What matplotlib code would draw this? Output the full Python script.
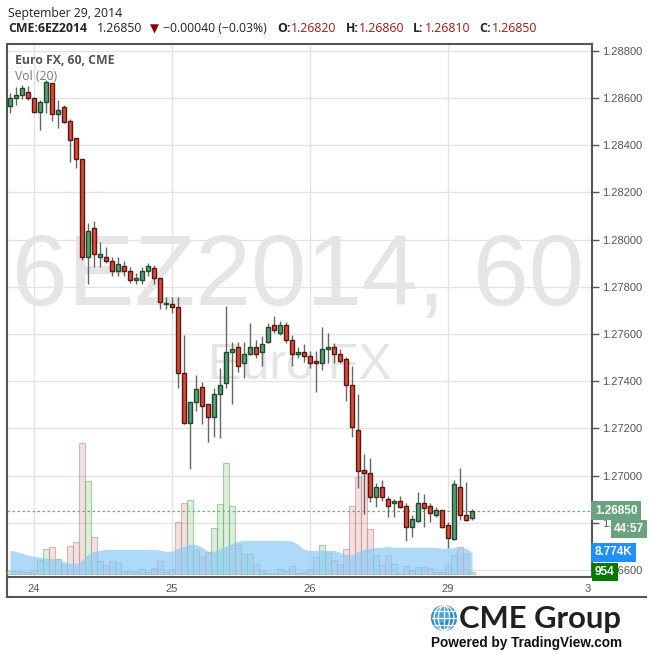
import numpy as np
import matplotlib
matplotlib.use('Agg')
import matplotlib.pyplot as plt
from matplotlib.patches import Circle, Ellipse
from matplotlib.lines import Line2D
import matplotlib.transforms as mtransforms

# hourly candles, Euro FX Dec 2014 (6EZ2014)
opens = [1.28566, 1.28600, 1.28612, 1.28625, 1.28600, 1.28540, 1.28583, 1.28663, 1.28532, 1.28561,
         1.28502, 1.28430, 1.28341, 1.27925, 1.28048, 1.27925, 1.27925, 1.27908, 1.27866, 1.27887,
         1.27866, 1.27828, 1.27828, 1.27866, 1.27879, 1.27836, 1.27726, 1.27726, 1.27713, 1.27434,
         1.27222, 1.27311, 1.27374, 1.27302, 1.27247, 1.27345, 1.27391, 1.27523, 1.27544, 1.27476,
         1.27514, 1.27544, 1.27523, 1.27565, 1.27637, 1.27603, 1.27637, 1.27574, 1.27514, 1.27523,
         1.27506, 1.27484, 1.27476, 1.27535, 1.27544, 1.27514, 1.27493, 1.27383, 1.27192, 1.27022,
         1.27010, 1.26908, 1.26951, 1.26899, 1.26882, 1.26891, 1.26870, 1.26780, 1.26806, 1.26882,
         1.26870, 1.26831, 1.26853, 1.26789, 1.26730, 1.26951, 1.26831, 1.26820]
highs = [1.28621, 1.28646, 1.28655, 1.28650, 1.28602, 1.28591, 1.28676, 1.28665, 1.28591, 1.28570,
         1.28510, 1.28432, 1.28343, 1.28070, 1.28078, 1.27989, 1.27968, 1.27925, 1.27925, 1.27908,
         1.27883, 1.27857, 1.27883, 1.27900, 1.27891, 1.27838, 1.27756, 1.27756, 1.27756, 1.27595,
         1.27313, 1.27425, 1.27395, 1.27304, 1.27370, 1.27455, 1.27718, 1.27565, 1.27565, 1.27565,
         1.27646, 1.27574, 1.27590, 1.27646, 1.27675, 1.27654, 1.27650, 1.27595, 1.27544, 1.27556,
         1.27527, 1.27527, 1.27628, 1.27603, 1.27561, 1.27535, 1.27501, 1.27463, 1.27345, 1.27090,
         1.27073, 1.26967, 1.26980, 1.26912, 1.26899, 1.26912, 1.26882, 1.26831, 1.26929, 1.26920,
         1.26882, 1.26865, 1.26855, 1.26802, 1.26980, 1.27031, 1.26971, 1.26860]
lows = [1.28536, 1.28570, 1.28595, 1.28591, 1.28536, 1.28464, 1.28536, 1.28502, 1.28472, 1.28494,
        1.28328, 1.28303, 1.27913, 1.27811, 1.27883, 1.27883, 1.27900, 1.27845, 1.27845, 1.27845,
        1.27815, 1.27811, 1.27811, 1.27845, 1.27811, 1.27705, 1.27705, 1.27688, 1.27370, 1.27220,
        1.27026, 1.27272, 1.27217, 1.27141, 1.27162, 1.27158, 1.27370, 1.27302, 1.27438, 1.27412,
        1.27512, 1.27497, 1.27463, 1.27561, 1.27603, 1.27595, 1.27561, 1.27463, 1.27497, 1.27480,
        1.27455, 1.27352, 1.27446, 1.27476, 1.27476, 1.27476, 1.27315, 1.27162, 1.26946, 1.26836,
        1.26887, 1.26865, 1.26891, 1.26824, 1.26824, 1.26861, 1.26721, 1.26738, 1.26804, 1.26780,
        1.26802, 1.26824, 1.26778, 1.26692, 1.26728, 1.26810, 1.26808, 1.26810]
closes = [1.28600, 1.28612, 1.28642, 1.28600, 1.28540, 1.28583, 1.28667, 1.28532, 1.28549, 1.28498,
          1.28421, 1.28341, 1.27925, 1.28036, 1.27938, 1.27938, 1.27908, 1.27866, 1.27896, 1.27866,
          1.27828, 1.27836, 1.27866, 1.27887, 1.27836, 1.27735, 1.27730, 1.27713, 1.27434, 1.27222,
          1.27311, 1.27366, 1.27294, 1.27247, 1.27345, 1.27383, 1.27523, 1.27535, 1.27463, 1.27514,
          1.27544, 1.27514, 1.27556, 1.27628, 1.27616, 1.27637, 1.27574, 1.27514, 1.27523, 1.27506,
          1.27476, 1.27476, 1.27535, 1.27544, 1.27514, 1.27484, 1.27383, 1.27205, 1.27018, 1.27010,
          1.26908, 1.26951, 1.26908, 1.26870, 1.26891, 1.26865, 1.26780, 1.26817, 1.26882, 1.26861,
          1.26840, 1.26853, 1.26780, 1.26734, 1.26963, 1.26831, 1.26810, 1.26850]
volumes = [1200, 1200, 800, 800, 1600, 5600, 10000, 10800, 6000, 3600,
           11200, 12800, 52400, 37200, 14800, 5200, 3600, 5200, 4800, 1200,
           1200, 800, 2000, 800, 2400, 5200, 800, 2000, 20800, 28400,
           29600, 9600, 6800, 8800, 18400, 28000, 44400, 27200, 11600, 8000,
           8000, 4000, 1600, 400, 400, 2000, 1200, 3200, 400, 800,
           2000, 6800, 11600, 8400, 5600, 4000, 10000, 27200, 38800, 41600,
           18000, 7600, 3600, 7600, 4000, 400, 3200, 1600, 2800, 2800,
           2400, 800, 800, 3600, 7600, 10800, 8000, 954]
vol_ma = [9600, 9200, 8400, 7600, 7200, 6800, 6400, 6400, 6000, 5200,
          4400, 4400, 5600, 8000, 9200, 9600, 10000, 10000, 10000, 10000,
          10000, 10000, 10000, 10000, 10000, 9600, 9200, 9200, 10400, 11200,
          12000, 12000, 10800, 9200, 9200, 10400, 11200, 12400, 13200, 13600,
          13600, 13600, 13600, 13600, 13600, 13600, 13600, 13200, 12000, 10000,
          9600, 9600, 9600, 9600, 9600, 8800, 8000, 7600, 9200, 10000,
          10400, 10800, 10800, 11200, 10800, 10800, 10800, 10800, 10800, 10800,
          10800, 10800, 10400, 10400, 10800, 10800, 10400, 8774]

day_pos = [4, 27, 50, 73, 96.3]
day_labels = ['24', '25', '26', '29', '3']
price_ticks = [1.266, 1.268, 1.270, 1.272, 1.274, 1.276, 1.278, 1.280, 1.282, 1.284, 1.286, 1.288]
last_price = 1.26850

W, H = 652, 654
def fx(px):
    return px / W
def fy(py):
    return 1 - py / H

RED, RED_EDGE = '#d64b3a', '#5a1810'
GREEN, GREEN_EDGE = '#5b9b78', '#1d4a2c'
AX_COL = '#555555'
LAB = 'Liberation Sans'

fig = plt.figure(figsize=(6.52, 6.54), dpi=100)
rect = [fx(7), fy(577), fx(592) - fx(7), fy(44) - fy(577)]
ax = fig.add_axes(rect)
axv = fig.add_axes(rect, sharex=ax)
axc = fig.add_axes(rect, sharex=ax, sharey=ax)

x = np.arange(len(closes))
o = np.array(opens); c = np.array(closes)
up = c >= o

# background: grid + watermark
ax.set_xlim(-0.5, 97)
ax.set_ylim(1.265699, 1.288287)
for p in price_ticks:
    ax.axhline(p, color='#e3e3e3', lw=1, zorder=0)
for d in day_pos[:4]:
    ax.axvline(d, color='#e3e3e3', lw=1, zorder=0)
ax.text(0.497, 0.56, '6EZ2014, 60', transform=ax.transAxes, ha='center', va='center',
        fontsize=72, color='#e5e5e5', family=LAB, zorder=0)
ax.text(0.50, 0.395, 'Euro FX', transform=ax.transAxes, ha='center', va='center',
        fontsize=36, color='#e5e5e5', family=LAB, zorder=0)
ax.axhline(last_price, color='#6aa87f', lw=0.9, ls=(0, (2, 2)), zorder=1)

ax.yaxis.tick_right()
ax.set_yticks(price_ticks)
ax.set_yticklabels([f'{p:.5f}' for p in price_ticks])
ax.set_xticks(day_pos)
ax.set_xticklabels(day_labels)
ax.tick_params(axis='y', direction='out', length=5, width=1, color=AX_COL, labelsize=8,
               labelcolor=AX_COL, pad=2)
ax.tick_params(axis='x', length=0, labelsize=8, labelcolor=AX_COL, pad=5)
for lab in ax.get_xticklabels() + ax.get_yticklabels():
    lab.set_family(LAB)
for s in ax.spines.values():
    s.set_color(AX_COL)
    s.set_linewidth(1.5)

# volume layer
axv.set_ylim(-1080, 212120)
axv.set_axis_off()
vcol = [(0.55, 0.78, 0.55, 0.3) if u else (0.85, 0.6, 0.6, 0.3) for u in up]
vedge = [(0.45, 0.7, 0.45, 0.6) if u else (0.8, 0.55, 0.55, 0.6) for u in up]
axv.bar(x, volumes, width=1.0, color=vcol, edgecolor=vedge, linewidth=0.8, zorder=1)
axv.fill_between(x, 0, vol_ma, color='#8ccaf6', alpha=0.7, lw=0, zorder=2)

# candles
axc.set_axis_off()
axc.vlines(x, lows, highs, color='#666666', lw=1, zorder=1)
body_lo = np.minimum(o, c)
body_h = np.maximum(np.abs(c - o), 0.00002)
axc.bar(x, body_h, bottom=body_lo, width=0.68, color=np.where(up, GREEN, RED),
        edgecolor=np.where(up, GREEN_EDGE, RED_EDGE), linewidth=1, zorder=2)

# price-axis flags
blend = mtransforms.blended_transform_factory(ax.transAxes, ax.transData)
ax.text(1.005, last_price, '1.26850', transform=blend, ha='left', va='center', fontsize=8.5,
        color='white', family=LAB, clip_on=False, weight='bold',
        bbox=dict(boxstyle='square,pad=0.3', fc='#6aa27f', ec='none'), zorder=5)
fig.text(fx(644), fy(529), '44:57', ha='right', va='center', fontsize=8.5, color='white',
         family=LAB, weight='bold', bbox=dict(boxstyle='square,pad=0.22', fc='#6aa27f', ec='none'))
vblend = mtransforms.blended_transform_factory(axv.transAxes, axv.transData)
axv.text(1.005, vol_ma[-1], '8.774K', transform=vblend, ha='left', va='center', fontsize=8.5,
         color='white', family=LAB, clip_on=False, weight='bold',
         bbox=dict(boxstyle='square,pad=0.3', fc='#1e90ff', ec='none'), zorder=5)
axv.text(1.005, volumes[-1], '954', transform=vblend, ha='left', va='center', fontsize=8.5,
         color='white', family=LAB, clip_on=False, weight='bold',
         bbox=dict(boxstyle='square,pad=0.25', fc='#007a00', ec='none'), zorder=5)

# frame under the time axis
fig.add_artist(Line2D([fx(7), fx(7)], [fy(577), fy(597)], color=AX_COL, lw=1.5))
fig.add_artist(Line2D([fx(7), fx(646)], [fy(597), fy(597)], color=AX_COL, lw=1.5))

# header
hf = 'Open Sans'
fs = 8.8
fig.text(fx(8), fy(13), 'September 29, 2014', fontsize=fs, family=hf, color='#222', va='center')
row = fy(29)
pieces = [(8, 'CME:6EZ2014', 'bold', '#222'), (97, '1.26850', 'normal', '#222'),
          (163, '\u22120.00040 (\u22120.03%)', 'normal', '#222'),
          (277, 'O:', 'bold', '#222'), (291, '1.26820', 'normal', '#a31515'),
          (346, 'H:', 'bold', '#222'), (359, '1.26860', 'normal', '#a31515'),
          (413, 'L:', 'bold', '#222'), (425, '1.26810', 'normal', '#a31515'),
          (479, 'C:', 'bold', '#222'), (492, '1.26850', 'normal', '#a31515')]
for px, s, w, col in pieces:
    fig.text(fx(px), row, s, fontsize=fs, family=hf, weight=w, color=col, va='center')
fig.text(fx(150), row, '\u25bc', fontsize=8.5, family='DejaVu Sans', color='#8b0000', va='center')
fig.text(fx(15), fy(60), 'Euro FX, 60, CME', fontsize=fs, family=hf, weight='bold',
         color='#555', va='center')
fig.text(fx(15), fy(77), 'Vol (20)', fontsize=fs, family=hf, color='#777', va='center')

# logo
axl = fig.add_axes([fx(431), fy(631), 26 / W, 26 / H])
axl.set_xlim(-1.05, 1.05); axl.set_ylim(-1.05, 1.05); axl.set_aspect('equal'); axl.set_axis_off()
globe = Circle((0, 0), 1, color='#2a8ad4')
axl.add_patch(globe)
axl.add_patch(Circle((-0.25, 0.25), 0.6, color='#5cb6f0', alpha=0.6, clip_path=globe))
for yy in [-0.55, 0, 0.55]:
    hw = np.sqrt(1 - yy ** 2)
    axl.plot([-hw, hw], [yy, yy], color='white', lw=0.9)
axl.plot([0, 0], [-1, 1], color='white', lw=0.9)
for wdt in [0.9, 1.6]:
    axl.add_patch(Ellipse((0, 0), wdt, 2, fill=False, ec='white', lw=0.9))
fig.text(fx(459), fy(619), 'CME Group', fontsize=22.3, family='Lato', weight='bold',
         color='#231f20', va='center')
fig.text(fx(527), fy(643), 'Powered by TradingView.com', fontsize=9.8, family=LAB,
         weight='bold', color='#111', va='center', ha='center')

fig.savefig('out.png', dpi=100)
